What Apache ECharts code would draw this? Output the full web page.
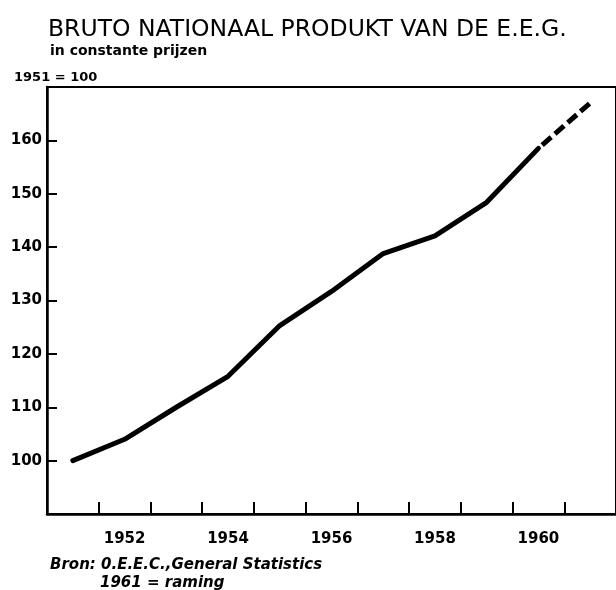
<!DOCTYPE html>
<html>
<head>
<meta charset="utf-8">
<script src="https://cdn.jsdelivr.net/npm/echarts@6/dist/echarts.min.js"></script>
<style>
html,body{margin:0;padding:0;background:#fff;}
#c{width:616px;height:590px;}
</style>
</head>
<body>
<div id="c"></div>
<script>
var years = ['1951','1952','1953','1954','1955','1956','1957','1958','1959','1960','1961'];
var gnpActual = [100, 104, 110, 115.8, 125.3, 131.7, 138.8, 142.1, 148.4, 158.5, null];
var gnpEstimate = [null, null, null, null, null, null, null, null, null, 158.5, 167];
var yTickLabels = [100, 110, 120, 130, 140, 150, 160];

var chart = echarts.init(document.getElementById('c'), null, {renderer: 'canvas'});
var font = 'DejaVu Sans';
chart.setOption({
  animation: false,
  backgroundColor: '#fff',
  title: [
    {text: 'BRUTO NATIONAAL PRODUKT VAN DE E.E.G.', left: 43, top: 13,
     textStyle: {fontFamily: font, fontSize: 23.5, fontWeight: 'normal', color: '#000'}},
    {text: 'in constante prijzen', left: 45, top: 39,
     textStyle: {fontFamily: font, fontSize: 14, fontWeight: 'bold', color: '#000'}},
    {text: '1951 = 100', left: 9, top: 66,
     textStyle: {fontFamily: font, fontSize: 13, fontWeight: 'bold', color: '#000'}},
    {text: 'Bron: 0.E.E.C.,General Statistics', left: 45, top: 553,
     textStyle: {fontFamily: font, fontSize: 15, fontWeight: 'bold', fontStyle: 'italic', color: '#000'}},
    {text: '1961 = raming', left: 95, top: 571,
     textStyle: {fontFamily: font, fontSize: 15, fontWeight: 'bold', fontStyle: 'italic', color: '#000'}}
  ],
  grid: {left: 47, top: 87, right: -8.5, bottom: 76, show: true, borderColor: '#000', borderWidth: 2, containLabel: false},
  xAxis: {
    type: 'category', data: years, boundaryGap: true,
    axisLine: {show: true, lineStyle: {color: '#000', width: 2.5}},
    axisTick: {show: true, inside: true, interval: 0, length: 12, lineStyle: {color: '#000', width: 2}},
    axisLabel: {
      interval: function (i) { return i % 2 === 1; },
      margin: 18, color: '#000', fontFamily: font, fontSize: 15, fontWeight: 'bold'
    },
    splitLine: {show: false}
  },
  yAxis: {
    type: 'value', min: 90, max: 170, interval: 10,
    axisLine: {show: true, lineStyle: {color: '#000', width: 2.5}},
    axisTick: {show: true, inside: true, length: 10, lineStyle: {color: '#000', width: 2}},
    axisLabel: {
      margin: 5, color: '#000', fontFamily: font, fontSize: 15, fontWeight: 'bold',
      formatter: function (v) { return yTickLabels.indexOf(v) >= 0 ? String(v) : ''; }
    },
    splitLine: {show: false}
  },
  series: [
    {type: 'line', data: gnpActual, symbol: 'none', connectNulls: false,
     lineStyle: {color: '#000', width: 5, cap: 'round', join: 'round'}},
    {type: 'line', data: gnpEstimate, symbol: 'none',
     lineStyle: {color: '#000', width: 5, type: [12, 5], dashOffset: 12, cap: 'butt'}}
  ]
});
</script>
</body>
</html>
